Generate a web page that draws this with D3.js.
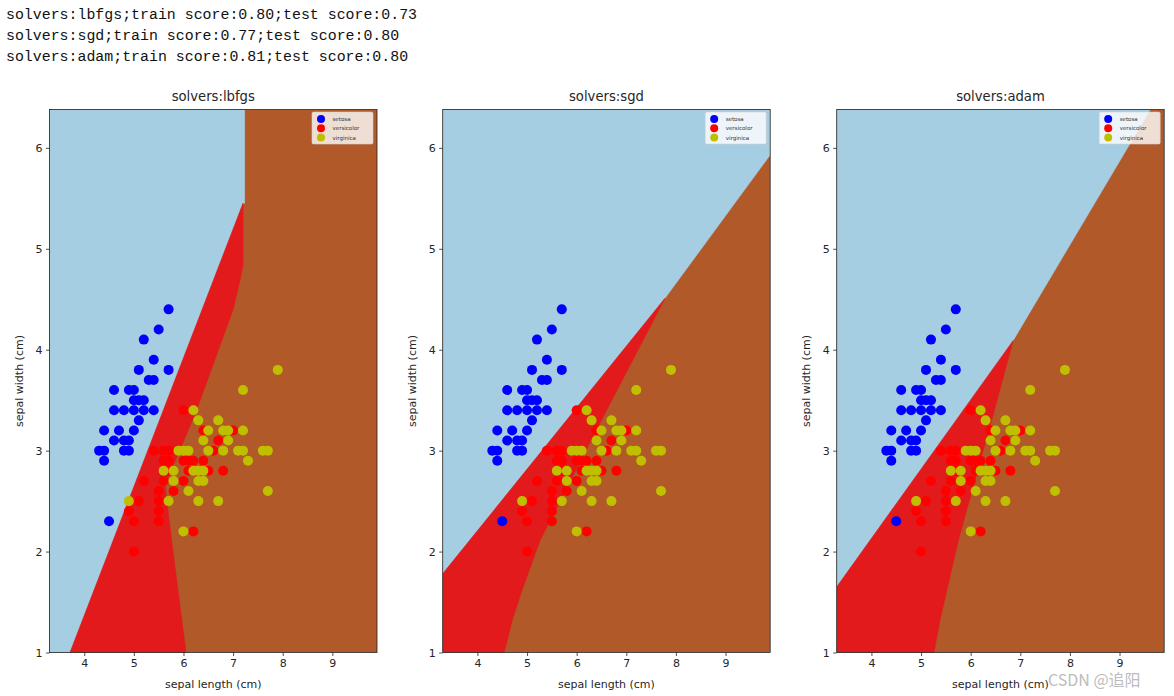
<!DOCTYPE html>
<html><head><meta charset="utf-8">
<script src="https://cdn.jsdelivr.net/npm/d3@7"></script>
<style>body{margin:0;background:#fff;overflow:hidden;}</style>
</head><body>
<svg id="chart" width="1174" height="696"></svg>
<script>
// ---------- data ----------
const headerLines = [
  "solvers:lbfgs;train score:0.80;test score:0.73",
  "solvers:sgd;train score:0.77;test score:0.80",
  "solvers:adam;train score:0.81;test score:0.80"
];
const solvers = ["lbfgs", "sgd", "adam"];
const classNames = ["setosa", "versicolor", "virginica"];
const xTicks = [4, 5, 6, 7, 8, 9];
const yTicks = [1, 2, 3, 4, 5, 6];
const xDomain = [3.3, 9.9];
const yDomain = [1, 6.38];

const setosaPts = [[5.7,4.4],[5.5,4.2],[5.2,4.1],[5.4,3.9],[5.1,3.8],[5.7,3.8],[5.3,3.7],[5.4,3.7],
  [4.6,3.6],[4.9,3.6],[5.0,3.6],[5.0,3.5],[5.1,3.5],[5.2,3.5],[4.6,3.4],[4.8,3.4],[5.0,3.4],[5.2,3.4],
  [5.4,3.4],[5.1,3.3],[4.4,3.2],[4.7,3.2],[5.0,3.2],[4.6,3.1],[4.8,3.1],[4.9,3.1],[4.3,3.0],[4.4,3.0],
  [4.8,3.0],[4.9,3.0],[4.4,2.9],[4.5,2.3]];
const versicolorPts = [[6.0,3.4],[6.4,3.2],[7.0,3.2],[6.7,3.1],[5.4,3.0],[5.6,3.0],[5.7,3.0],[6.6,3.0],
  [5.6,2.9],[5.7,2.9],[6.0,2.9],[6.1,2.9],[6.2,2.9],[6.4,2.9],[5.7,2.8],[6.1,2.8],[6.5,2.8],[6.8,2.8],
  [5.2,2.7],[5.6,2.7],[6.0,2.7],[5.5,2.6],[5.8,2.6],[5.1,2.5],[5.5,2.5],[4.9,2.4],[5.5,2.4],[5.0,2.3],
  [5.5,2.3],[6.2,2.2],[5.0,2.0]];
const virginicaPts = [[7.9,3.8],[7.2,3.6],[6.2,3.4],[6.3,3.3],[6.7,3.3],[6.5,3.2],[6.8,3.2],[6.9,3.2],
  [7.2,3.2],[6.4,3.1],[6.9,3.1],[5.9,3.0],[6.0,3.0],[6.1,3.0],[6.5,3.0],[6.8,3.0],[7.1,3.0],[7.2,3.0],
  [7.6,3.0],[7.7,3.0],[7.3,2.9],[5.6,2.8],[5.8,2.8],[6.2,2.8],[6.3,2.8],[6.4,2.8],[5.8,2.7],[6.3,2.7],
  [6.4,2.7],[6.1,2.6],[7.7,2.6],[4.9,2.5],[5.7,2.5],[6.3,2.5],[6.7,2.5],[6.0,2.2]];

// decision regions (data coordinates); remaining area is virginica
const lbfgsSetosaRegion = [[3.3,1],[3.713,1],[7.20,5.45],[7.231,5.45],[7.231,6.38],[3.3,6.38]];
const lbfgsVersicolorRegion = [[3.713,1],[6.05,1],[5.76,2.11],[5.66,2.51],[5.63,2.66],[5.93,3.01],
  [6.27,3.41],[7.0,4.40],[7.14,4.69],[7.20,4.84],[7.20,5.45]];
const sgdSetosaRegion = [[3.3,1.78],[7.78,4.51],[9.9,5.93],[9.9,6.38],[3.3,6.38]];
const sgdVersicolorRegion = [[3.3,1],[4.54,1],[4.70,1.32],[4.90,1.62],[5.26,2.11],[6.57,3.37],[7.78,4.51],[3.3,1.78]];
const adamSetosaRegion = [[3.3,1.65],[6.855,4.09],[9.62,6.38],[3.3,6.38]];
const adamVersicolorRegion = [[3.3,1],[5.26,1],[5.38,1.32],[5.75,2.11],[6.46,3.37],[6.855,4.09],[3.3,1.65]];

const regions = {
  lbfgs: [lbfgsSetosaRegion, lbfgsVersicolorRegion],
  sgd: [sgdSetosaRegion, sgdVersicolorRegion],
  adam: [adamSetosaRegion, adamVersicolorRegion]
};

// ---------- styling ----------
const regionColors = ["#a6cee3", "#e31a1c", "#b15928"];
const pointColors = ["#0000ff", "#ff0000", "#bfbf00"];
const panelLefts = [49.5, 442.7, 836.7];
const panelW = 327.5, panelTop = 109.5, panelBottom = 652.5;
const textColor = "#262626";
const font = "'DejaVu Sans', sans-serif";

const svg = d3.select("#chart");

// header text
svg.selectAll("text.hdr").data(headerLines).join("text")
  .attr("class", "hdr")
  .attr("x", 6).attr("y", (d, i) => 18.5 + i * 21)
  .attr("font-family", "'Liberation Mono', monospace")
  .attr("font-size", 14.9).attr("fill", "#111")
  .text(d => d);

const pts = [setosaPts, versicolorPts, virginicaPts];

solvers.forEach((s, si) => {
  const left = panelLefts[si];
  const x = d3.scaleLinear().domain(xDomain).range([left, left + panelW]);
  const y = d3.scaleLinear().domain(yDomain).range([panelBottom, panelTop]);
  const g = svg.append("g");
  const clipId = "clip" + si;
  svg.append("clipPath").attr("id", clipId).append("rect")
    .attr("x", left).attr("y", panelTop).attr("width", panelW).attr("height", panelBottom - panelTop);

  const plot = g.append("g").attr("clip-path", `url(#${clipId})`);
  plot.append("rect").attr("x", left).attr("y", panelTop)
    .attr("width", panelW).attr("height", panelBottom - panelTop)
    .attr("fill", regionColors[2]);
  const line = d3.line().x(d => x(d[0])).y(d => y(d[1]));
  regions[s].forEach((poly, k) => {
    plot.append("path").attr("d", line(poly) + "Z")
      .attr("fill", regionColors[k]).attr("stroke", regionColors[k]).attr("stroke-width", 0.6);
  });

  pts.forEach((arr, k) => {
    plot.selectAll(null).data(arr).join("circle")
      .attr("cx", d => x(d[0])).attr("cy", d => y(d[1])).attr("r", 5)
      .attr("fill", pointColors[k]);
  });

  // axes
  const xAxis = d3.axisBottom(x).tickValues(xTicks).tickSize(3.5).tickPadding(3.5).tickFormat(d3.format("d"));
  const yAxis = d3.axisLeft(y).tickValues(yTicks).tickSize(3.5).tickPadding(3.5).tickFormat(d3.format("d"));
  const gx = g.append("g").attr("transform", `translate(0,${panelBottom})`).call(xAxis);
  const gy = g.append("g").attr("transform", `translate(${left},0)`).call(yAxis);
  [gx, gy].forEach(a => {
    a.select(".domain").remove();
    a.selectAll("line").attr("stroke", "#222").attr("stroke-width", 0.8);
    a.selectAll("text").attr("font-family", font).attr("font-size", 11).attr("fill", textColor);
  });

  // frame
  g.append("rect").attr("x", left).attr("y", panelTop)
    .attr("width", panelW).attr("height", panelBottom - panelTop)
    .attr("fill", "none").attr("stroke", "#222").attr("stroke-width", 0.8);

  // title & labels
  g.append("text").attr("x", left + panelW / 2).attr("y", 101)
    .attr("text-anchor", "middle").attr("font-family", font).attr("font-size", 13.2)
    .attr("fill", textColor).text("solvers:" + s);
  g.append("text").attr("x", left + panelW / 2).attr("y", 688)
    .attr("text-anchor", "middle").attr("font-family", font).attr("font-size", 11)
    .attr("fill", textColor).text("sepal length (cm)");
  g.append("text").attr("transform", `translate(${left - 27},${(panelTop + panelBottom) / 2}) rotate(-90)`)
    .attr("text-anchor", "middle").attr("font-family", font).attr("font-size", 11)
    .attr("fill", textColor).text("sepal width (cm)");

  // legend
  const lx = left + panelW - 65, ly = panelTop + 2.5;
  const lg = g.append("g");
  lg.append("rect").attr("x", lx).attr("y", ly).attr("width", 61).attr("height", 32).attr("rx", 1.5)
    .attr("fill", "rgba(255,255,255,0.8)").attr("stroke", "#d0d0d0").attr("stroke-width", 0.6);
  classNames.forEach((c, k) => {
    lg.append("circle").attr("cx", lx + 9).attr("cy", ly + 7 + k * 9.3).attr("r", 4).attr("fill", pointColors[k]);
    lg.append("text").attr("x", lx + 20.5).attr("y", ly + 9 + k * 9.3)
      .attr("font-family", font).attr("font-size", 5.5).attr("fill", "#333").text(c);
  });
});

// watermark (overlaps the third x label, as in the reference)
svg.append("text").attr("x", 1048).attr("y", 686)
  .attr("font-family", "'Noto Sans CJK SC', sans-serif").attr("font-size", 16)
  .attr("fill", "rgba(170,170,170,0.8)").text("CSDN @追阳");
</script>
</body></html>
